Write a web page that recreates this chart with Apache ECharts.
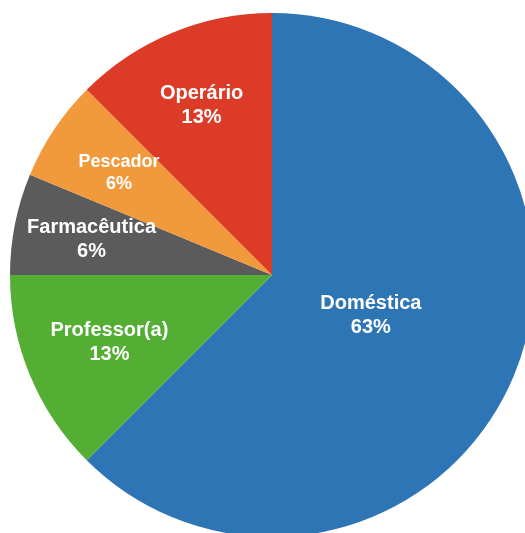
<!DOCTYPE html>
<html>
<head>
<meta charset="utf-8">
<script src="https://cdn.jsdelivr.net/npm/echarts@6/dist/echarts.min.js"></script>
<style>
  html, body { margin: 0; padding: 0; background: #fff; }
  #chart { width: 525px; height: 533px; }
</style>
</head>
<body>
<div id="chart"></div>
<script>
// Occupations (counts out of 16 respondents)
const categories = ['Doméstica', 'Professor(a)', 'Farmacêutica', 'Pescador', 'Operário'];
const counts = [10, 2, 1, 1, 2];
const sliceColors = ['#2E75B6', '#53AE33', '#5B5B5B', '#F19A3B', '#DC3B27'];

const CENTER = [272, 275];
const RADIUS = 262;

const labelFont = {
  color: '#fff',
  fontFamily: '"Liberation Sans", Arial, Helvetica, sans-serif',
  fontWeight: 'bold',
  fontSize: 20,
  lineHeight: 24,
  padding: [4, 0, 0, 0]
};

function pctText(p) {
  return p.name + '\n' + Math.round(p.percent) + '%';
}

// Transparent copy of the pie that only carries labels for the chosen slices;
// the ring width places the label radially.
function labelRing(radius, shown, extra) {
  return {
    type: 'pie',
    silent: true,
    center: CENTER,
    radius: radius,
    startAngle: 90,
    clockwise: true,
    animation: false,
    labelLine: { show: false },
    itemStyle: { color: 'rgba(0,0,0,0)', borderWidth: 0 },
    label: Object.assign({ show: false, position: 'inside', formatter: pctText }, labelFont),
    data: categories.map((name, i) => ({
      name: name,
      value: counts[i],
      label: shown.indexOf(name) >= 0
        ? Object.assign({ show: true }, (extra && extra[name]) || {})
        : { show: false }
    }))
  };
}

const chart = echarts.init(document.getElementById('chart'), null, { renderer: 'canvas' });
chart.setOption({
  backgroundColor: '#ffffff',
  animation: false,
  series: [
    {
      type: 'pie',
      silent: true,
      center: CENTER,
      radius: [0, RADIUS],
      startAngle: 90,
      clockwise: true,
      label: { show: false },
      labelLine: { show: false },
      itemStyle: { borderWidth: 0 },
      data: categories.map((name, i) => ({
        name: name,
        value: counts[i],
        itemStyle: { color: sliceColors[i] }
      }))
    },
    labelRing([0, 208], ['Doméstica']),
    labelRing([84, 262], ['Professor(a)']),
    labelRing([100, 262], ['Farmacêutica', 'Pescador', 'Operário'],
      { 'Pescador': { fontSize: 18, lineHeight: 22 } })
  ]
});
</script>
</body>
</html>
